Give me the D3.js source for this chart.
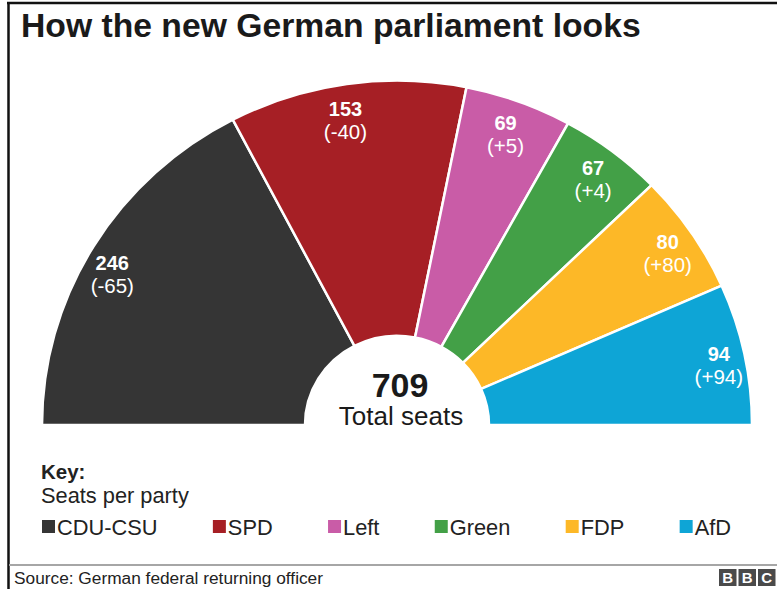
<!DOCTYPE html>
<html>
<head>
<meta charset="utf-8">
<script src="https://cdn.jsdelivr.net/npm/d3@7"></script>
<style>
    body { margin: 0; background: #fff; }
    text { font-family: "Liberation Sans", Arial, Helvetica, sans-serif; }
</style>
</head>
<body>
<script>
(function () {

    var parties = ["CDU-CSU", "SPD", "Left", "Green", "FDP", "AfD"];
    var seats = [246, 153, 69, 67, 80, 94];
    var changes = ["(-65)", "(-40)", "(+5)", "(+4)", "(+80)", "(+94)"];
    var colors = ["#353535", "#a61f25", "#c95ca7", "#43a047", "#fdb827", "#0ea5d6"];
    var totalSeats = d3.sum(seats);

    window.onload = setChart();

    function setChart() {
        var width = 777,
            height = 589;

        var svg = d3.select("body")
            .append("svg")
            .attr("width", width)
            .attr("height", height);

        //frame lines (left and top) plus grey footer rule
        svg.append("line")
            .attr("x1", 8.5).attr("y1", 2).attr("x2", 8.5).attr("y2", height)
            .attr("stroke", "#111").attr("stroke-width", 2.5);
        svg.append("line")
            .attr("x1", 7).attr("y1", 3).attr("x2", width).attr("y2", 3)
            .attr("stroke", "#111").attr("stroke-width", 2.5);
        svg.append("line")
            .attr("x1", 9).attr("y1", 565).attr("x2", width).attr("y2", 565)
            .attr("stroke", "#a6a6a6").attr("stroke-width", 2);

        //title
        svg.append("text")
            .attr("x", 21)
            .attr("y", 37)
            .attr("font-size", 33.7)
            .attr("font-weight", "bold")
            .attr("fill", "#1a1a1a")
            .text("How the new German parliament looks");

        setHemicycle(svg);
        setLegend(svg);
        setFooter(svg);
    };

    function setHemicycle(svg) {
        var cx = 397,
            cy = 425,
            squash = 0.97,
            outer = 355,
            inner = 92;

        var pie = d3.pie()
            .sort(null)
            .startAngle(-Math.PI / 2)
            .endAngle(Math.PI / 2)
            .value(function (d) { return d; });

        var arc = d3.arc()
            .innerRadius(inner)
            .outerRadius(outer);

        var arcs = pie(seats);

        var g = svg.append("g")
            .attr("transform", "translate(" + cx + "," + cy + ") scale(1," + squash + ")");

        g.selectAll(".slice")
            .data(arcs)
            .enter()
            .append("path")
            .attr("class", "slice")
            .attr("d", arc)
            .attr("fill", function (d, i) { return colors[i]; })
            .attr("stroke", "#fff")
            .attr("stroke-width", 2.5)
            .attr("vector-effect", "non-scaling-stroke");

        //labels sit along the middle angle of each slice, turned back a touch
        var labelR = 330;
        function labelPos(d) {
            var a = (d.startAngle + d.endAngle) / 2 - 0.015;
            return [cx + labelR * Math.sin(a), cy - squash * labelR * Math.cos(a)];
        };

        svg.selectAll(".seatNum")
            .data(arcs)
            .enter()
            .append("text")
            .attr("class", "seatNum")
            .attr("text-anchor", "middle")
            .attr("x", function (d) { return labelPos(d)[0]; })
            .attr("y", function (d) { return labelPos(d)[1] + 7; })
            .attr("font-size", 20)
            .attr("font-weight", "bold")
            .attr("fill", "#fff")
            .text(function (d) { return d.data; });

        svg.selectAll(".seatChange")
            .data(arcs)
            .enter()
            .append("text")
            .attr("class", "seatChange")
            .attr("text-anchor", "middle")
            .attr("x", function (d) { return labelPos(d)[0]; })
            .attr("y", function (d) { return labelPos(d)[1] + 30; })
            .attr("font-size", 20.5)
            .attr("fill", "#fff")
            .text(function (d, i) { return changes[i]; });

        //total in the middle
        svg.append("text")
            .attr("x", 400)
            .attr("y", 397)
            .attr("text-anchor", "middle")
            .attr("font-size", 34)
            .attr("font-weight", "bold")
            .attr("fill", "#1a1a1a")
            .text(totalSeats);

        svg.append("text")
            .attr("x", 401)
            .attr("y", 425)
            .attr("text-anchor", "middle")
            .attr("font-size", 26)
            .attr("fill", "#1a1a1a")
            .text("Total seats");
    };

    function setLegend(svg) {
        svg.append("text")
            .attr("x", 41)
            .attr("y", 479)
            .attr("font-size", 20.5)
            .attr("font-weight", "bold")
            .attr("fill", "#222")
            .text("Key:");

        svg.append("text")
            .attr("x", 41)
            .attr("y", 503)
            .attr("font-size", 21.8)
            .attr("fill", "#222")
            .text("Seats per party");

        var left = 42,
            right = 731,
            box = 13,
            pad = 2;

        var items = svg.selectAll(".legendItem")
            .data(parties)
            .enter()
            .append("g")
            .attr("class", "legendItem");

        items.append("rect")
            .attr("y", 520)
            .attr("width", box)
            .attr("height", box)
            .attr("fill", function (d, i) { return colors[i]; });

        items.append("text")
            .attr("x", box + pad)
            .attr("y", 535)
            .attr("font-size", 21.8)
            .attr("fill", "#222")
            .text(function (d) { return d; });

        //spread the items with equal gaps across the row
        var widths = [];
        items.each(function () {
            widths.push(box + pad + this.querySelector("text").getComputedTextLength());
        });
        var gap = (right - left - d3.sum(widths)) / (parties.length - 1);
        var x = left;
        items.attr("transform", function (d, i) {
            var t = "translate(" + x + ",0)";
            x += widths[i] + gap;
            return t;
        });
    };

    function setFooter(svg) {
        svg.append("text")
            .attr("x", 14)
            .attr("y", 584)
            .attr("font-size", 17.3)
            .attr("fill", "#222")
            .text("Source: German federal returning officer");

        var letters = ["B", "B", "C"];
        var logo = svg.selectAll(".bbc")
            .data(letters)
            .enter()
            .append("g")
            .attr("class", "bbc")
            .attr("transform", function (d, i) { return "translate(" + (719 + i * 19.5) + ",569)"; });

        logo.append("rect")
            .attr("width", 17.5)
            .attr("height", 17)
            .attr("fill", "#4a4a4a");

        logo.append("text")
            .attr("x", 8.75)
            .attr("y", 14)
            .attr("text-anchor", "middle")
            .attr("font-size", 15)
            .attr("font-weight", "bold")
            .attr("fill", "#fff")
            .text(function (d) { return d; });
    };
})();
</script>
</body>
</html>
